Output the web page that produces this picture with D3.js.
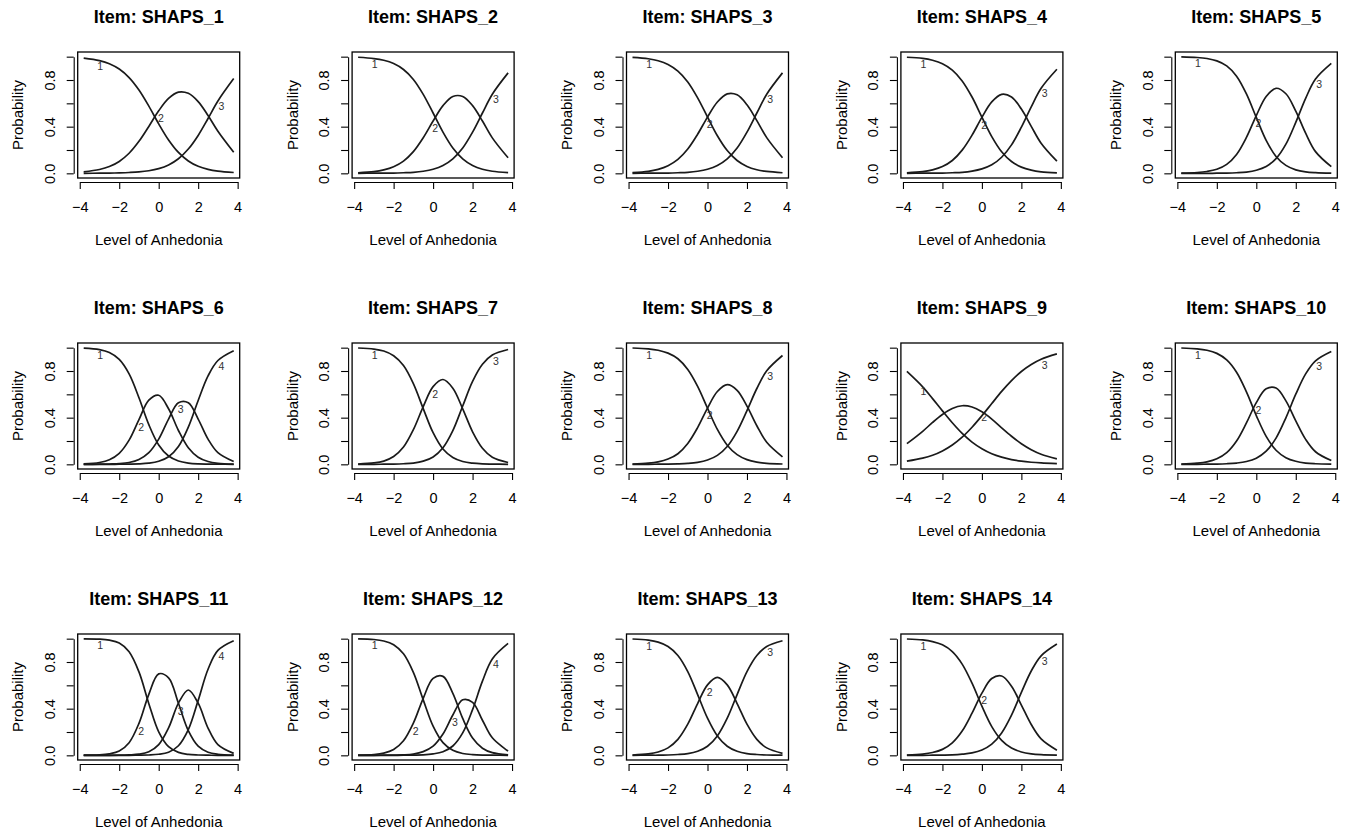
<!DOCTYPE html>
<html>
<head>
<meta charset="utf-8">
<script src="https://cdn.jsdelivr.net/npm/d3@7"></script>
<style>
  body { margin: 0; background: #fff; }
  text { font-family: "Liberation Sans", Arial, Helvetica, sans-serif; }
</style>
</head>
<body>
<svg width="1358" height="839"></svg>
<script>
// latent trait grid the probabilities were read at
var theta = [-3.8, -3, -2.5, -2, -1.5, -1, -0.5, 0, 0.5, 1, 1.5, 2, 2.5, 3, 3.8];

var itemNames = ["SHAPS_1", "SHAPS_2", "SHAPS_3", "SHAPS_4", "SHAPS_5",
                 "SHAPS_6", "SHAPS_7", "SHAPS_8", "SHAPS_9", "SHAPS_10",
                 "SHAPS_11", "SHAPS_12", "SHAPS_13", "SHAPS_14"];

// category response probabilities, one row per category
var shaps1 = [
  [.987, .966, .940, .894, .821, .714, .576, .424, .286, .179, .106, .060, .034, .019, .007],
  [.013, .033, .058, .102, .172, .274, .402, .536, .642, .696, .686, .615, .496, .361, .181],
  [0, .001, .002, .004, .007, .012, .022, .040, .072, .125, .208, .325, .470, .620, .812]];
var shaps2 = [
  [.995, .984, .969, .941, .890, .805, .677, .517, .353, .217, .124, .067, .035, .018, .006],
  [.005, .015, .030, .057, .105, .186, .305, .448, .580, .659, .659, .580, .448, .304, .133],
  [0, .001, .001, .002, .005, .009, .018, .035, .067, .124, .217, .353, .517, .678, .861]];
var shaps3 = [
  [.994, .982, .965, .933, .876, .783, .647, .483, .322, .195, .110, .059, .031, .016, .005],
  [.006, .017, .034, .065, .119, .208, .335, .482, .611, .681, .673, .588, .452, .306, .134],
  [0, .001, .001, .002, .005, .009, .018, .035, .067, .124, .217, .353, .517, .678, .861]];
var shaps4 = [
  [.995, .985, .969, .940, .885, .792, .654, .482, .315, .185, .101, .053, .027, .013, .004],
  [.005, .014, .030, .058, .110, .199, .327, .480, .612, .677, .655, .551, .403, .258, .104],
  [0, .001, .001, .002, .005, .009, .019, .038, .073, .138, .244, .396, .570, .729, .892]];
var shaps5 = [
  [.998, .993, .984, .964, .921, .833, .681, .479, .283, .145, .068, .030, .013, .006, .001],
  [.002, .007, .016, .035, .077, .162, .308, .495, .659, .729, .682, .533, .344, .186, .057],
  [0, 0, 0, .001, .002, .005, .011, .026, .058, .126, .250, .437, .643, .808, .942]];
var shaps6 = [
  [.996, .983, .958, .899, .775, .571, .340, .166, .071, .029, .011, .004, .002, .001, 0],
  [.004, .016, .039, .094, .207, .383, .550, .592, .476, .290, .142, .061, .024, .009, .002],
  [0, .001, .003, .006, .016, .042, .100, .216, .388, .528, .528, .388, .216, .100, .024],
  [0, 0, 0, .001, .002, .004, .010, .026, .065, .153, .319, .547, .758, .890, .974]];
var shaps7 = [
  [.997, .988, .971, .931, .847, .692, .478, .271, .131, .058, .024, .010, .004, .002, 0],
  [.003, .012, .028, .067, .148, .297, .495, .666, .727, .653, .476, .279, .138, .061, .016],
  [0, 0, .001, .002, .005, .011, .027, .063, .142, .289, .500, .711, .858, .937, .984]];
var shaps8 = [
  [.997, .990, .978, .953, .905, .813, .668, .481, .299, .164, .083, .040, .019, .009, .003],
  [.003, .010, .021, .045, .091, .179, .315, .482, .624, .683, .634, .499, .331, .189, .064],
  [0, 0, .001, .002, .004, .008, .017, .037, .077, .153, .283, .461, .650, .802, .933]];
var shaps9 = [
  [.796, .664, .563, .458, .356, .265, .191, .134, .091, .062, .041, .027, .018, .012, .006],
  [.177, .283, .359, .427, .478, .502, .491, .450, .388, .313, .241, .177, .126, .087, .047],
  [.027, .053, .078, .115, .166, .233, .318, .416, .521, .625, .718, .796, .856, .901, .947]];
var shaps10 = [
  [.997, .990, .978, .951, .895, .789, .621, .418, .240, .121, .057, .026, .011, .005, .001],
  [.003, .010, .021, .047, .100, .200, .355, .529, .647, .654, .544, .373, .214, .108, .032],
  [0, 0, .001, .002, .005, .011, .024, .053, .113, .225, .399, .601, .775, .887, .967]];
var shaps11 = [
  [.999, .996, .987, .962, .888, .715, .443, .201, .074, .025, .008, .003, .001, 0, 0],
  [.001, .004, .013, .037, .108, .274, .523, .698, .664, .446, .212, .079, .027, .009, .001],
  [0, 0, 0, .001, .004, .010, .031, .092, .235, .447, .560, .447, .234, .092, .017],
  [0, 0, 0, 0, 0, .001, .003, .009, .027, .082, .220, .471, .738, .899, .982]];
var shaps12 = [
  [.998, .993, .980, .948, .870, .711, .475, .250, .109, .043, .016, .006, .002, .001, 0],
  [.002, .007, .019, .050, .125, .276, .489, .659, .677, .531, .316, .148, .061, .023, .005],
  [0, 0, .001, .002, .004, .011, .032, .079, .183, .346, .476, .454, .301, .150, .036],
  [0, 0, 0, 0, .001, .002, .004, .012, .031, .080, .192, .392, .636, .826, .959]];
var shaps13 = [
  [.997, .987, .970, .933, .856, .718, .521, .318, .166, .078, .035, .015, .007, .003, .001],
  [.003, .012, .029, .064, .137, .267, .444, .604, .668, .604, .444, .267, .137, .064, .017],
  [0, .001, .001, .003, .007, .015, .035, .078, .166, .318, .521, .718, .856, .933, .982]];
var shaps14 = [
  [.997, .989, .975, .947, .889, .782, .618, .421, .246, .128, .062, .029, .013, .006, .002],
  [.003, .011, .024, .051, .107, .208, .361, .533, .658, .680, .593, .431, .264, .141, .044],
  [0, 0, .001, .002, .004, .010, .021, .046, .096, .192, .345, .540, .723, .853, .954]];

var itemProbs = [shaps1, shaps2, shaps3, shaps4, shaps5, shaps6, shaps7,
                 shaps8, shaps9, shaps10, shaps11, shaps12, shaps13, shaps14];

var xTicks = [-4, -2, 0, 2, 4];
var yTicks = [0, 0.2, 0.4, 0.6, 0.8, 1];
var yTickLabels = ["0.0", "", "0.4", "", "0.8", ""];
// where the category numbers sit along the curves
var labelTheta3 = [-3.109, -0.038, 3.032];
var labelTheta4 = [-3.109, -1.036, 0.960, 3.032];

var svg = d3.select("svg");
svg.append("rect").attr("width", 1358).attr("height", 839).attr("fill", "#fff");

var boxW = 162, boxH = 126;

function yAtX(node, px) {
  var lo = 0, hi = node.getTotalLength();
  for (var n = 0; n < 30; n++) {
    var mid = (lo + hi) / 2;
    if (node.getPointAtLength(mid).x < px) lo = mid; else hi = mid;
  }
  return node.getPointAtLength(lo).y;
}

itemNames.forEach(function(name, i) {
  var col = i % 5, row = Math.floor(i / 5);
  var left = 77.7 + col * 274.4, top = 52 + row * 291;
  var g = svg.append("g").attr("transform", "translate(" + left + "," + top + ")");

  var x = d3.scaleLinear().domain([-4.104, 4.104]).range([0, boxW]);
  var y = d3.scaleLinear().domain([-0.04, 1.04]).range([boxH, 0]);

  // axes, offset a little from the box like base R
  var xAxis = d3.axisBottom(x.copy().domain([-4, 4]).range([x(-4), x(4)]))
      .tickValues(xTicks).tickSize(7).tickSizeOuter(0)
      .tickFormat(function(d) { return d < 0 ? "\u2212" + (-d) : d; });
  var gx = g.append("g").attr("transform", "translate(0," + (boxH + 4) + ")").call(xAxis);
  gx.selectAll("text").attr("y", 30).attr("dy", null)
      .attr("font-size", 14.5).attr("fill", "#000");

  var yAxis = d3.axisLeft(y.copy().domain([0, 1]).range([y(0), y(1)]))
      .tickValues(yTicks).tickSize(7).tickSizeOuter(0)
      .tickFormat(function(d, k) { return yTickLabels[k]; });
  var gy = g.append("g").attr("transform", "translate(-4,0)").call(yAxis);
  gy.selectAll("text").attr("x", null).attr("dy", null)
      .attr("text-anchor", "middle")
      .attr("transform", "translate(-18.7,0) rotate(-90)")
      .attr("font-size", 14.5).attr("fill", "#000");

  [gx, gy].forEach(function(a) {
    a.selectAll("path, line").attr("stroke", "#000").attr("stroke-width", 1.1);
    a.attr("font-family", null);
  });

  g.append("rect")
      .attr("width", boxW).attr("height", boxH)
      .attr("fill", "none").attr("stroke", "#000").attr("stroke-width", 1.3);

  var line = d3.line()
      .x(function(d, j) { return x(theta[j]); })
      .y(function(d) { return y(d); })
      .curve(d3.curveCatmullRom);

  var probs = itemProbs[i];
  var labelTheta = probs.length === 4 ? labelTheta4 : labelTheta3;

  probs.forEach(function(p, k) {
    var path = g.append("path")
        .attr("d", line(p))
        .attr("fill", "none")
        .attr("stroke", "#1a1a1a")
        .attr("stroke-width", 1.7);
    var lx = x(labelTheta[k]);
    var ly = yAtX(path.node(), lx);
    g.append("text")
        .attr("x", lx).attr("y", ly + 10)
        .attr("font-size", 10.5).attr("fill", "#333")
        .text(k + 1);
  });

  g.append("text")
      .attr("x", boxW / 2).attr("y", -29.3)
      .attr("text-anchor", "middle")
      .attr("font-size", 18).attr("font-weight", "bold")
      .text("Item: " + name);

  g.append("text")
      .attr("x", boxW / 2).attr("y", boxH + 67)
      .attr("text-anchor", "middle")
      .attr("font-size", 15)
      .text("Level of Anhedonia");

  g.append("text")
      .attr("transform", "translate(-54.4," + (boxH / 2) + ") rotate(-90)")
      .attr("text-anchor", "middle")
      .attr("font-size", 15)
      .text("Probability");
});
</script>
</body>
</html>
